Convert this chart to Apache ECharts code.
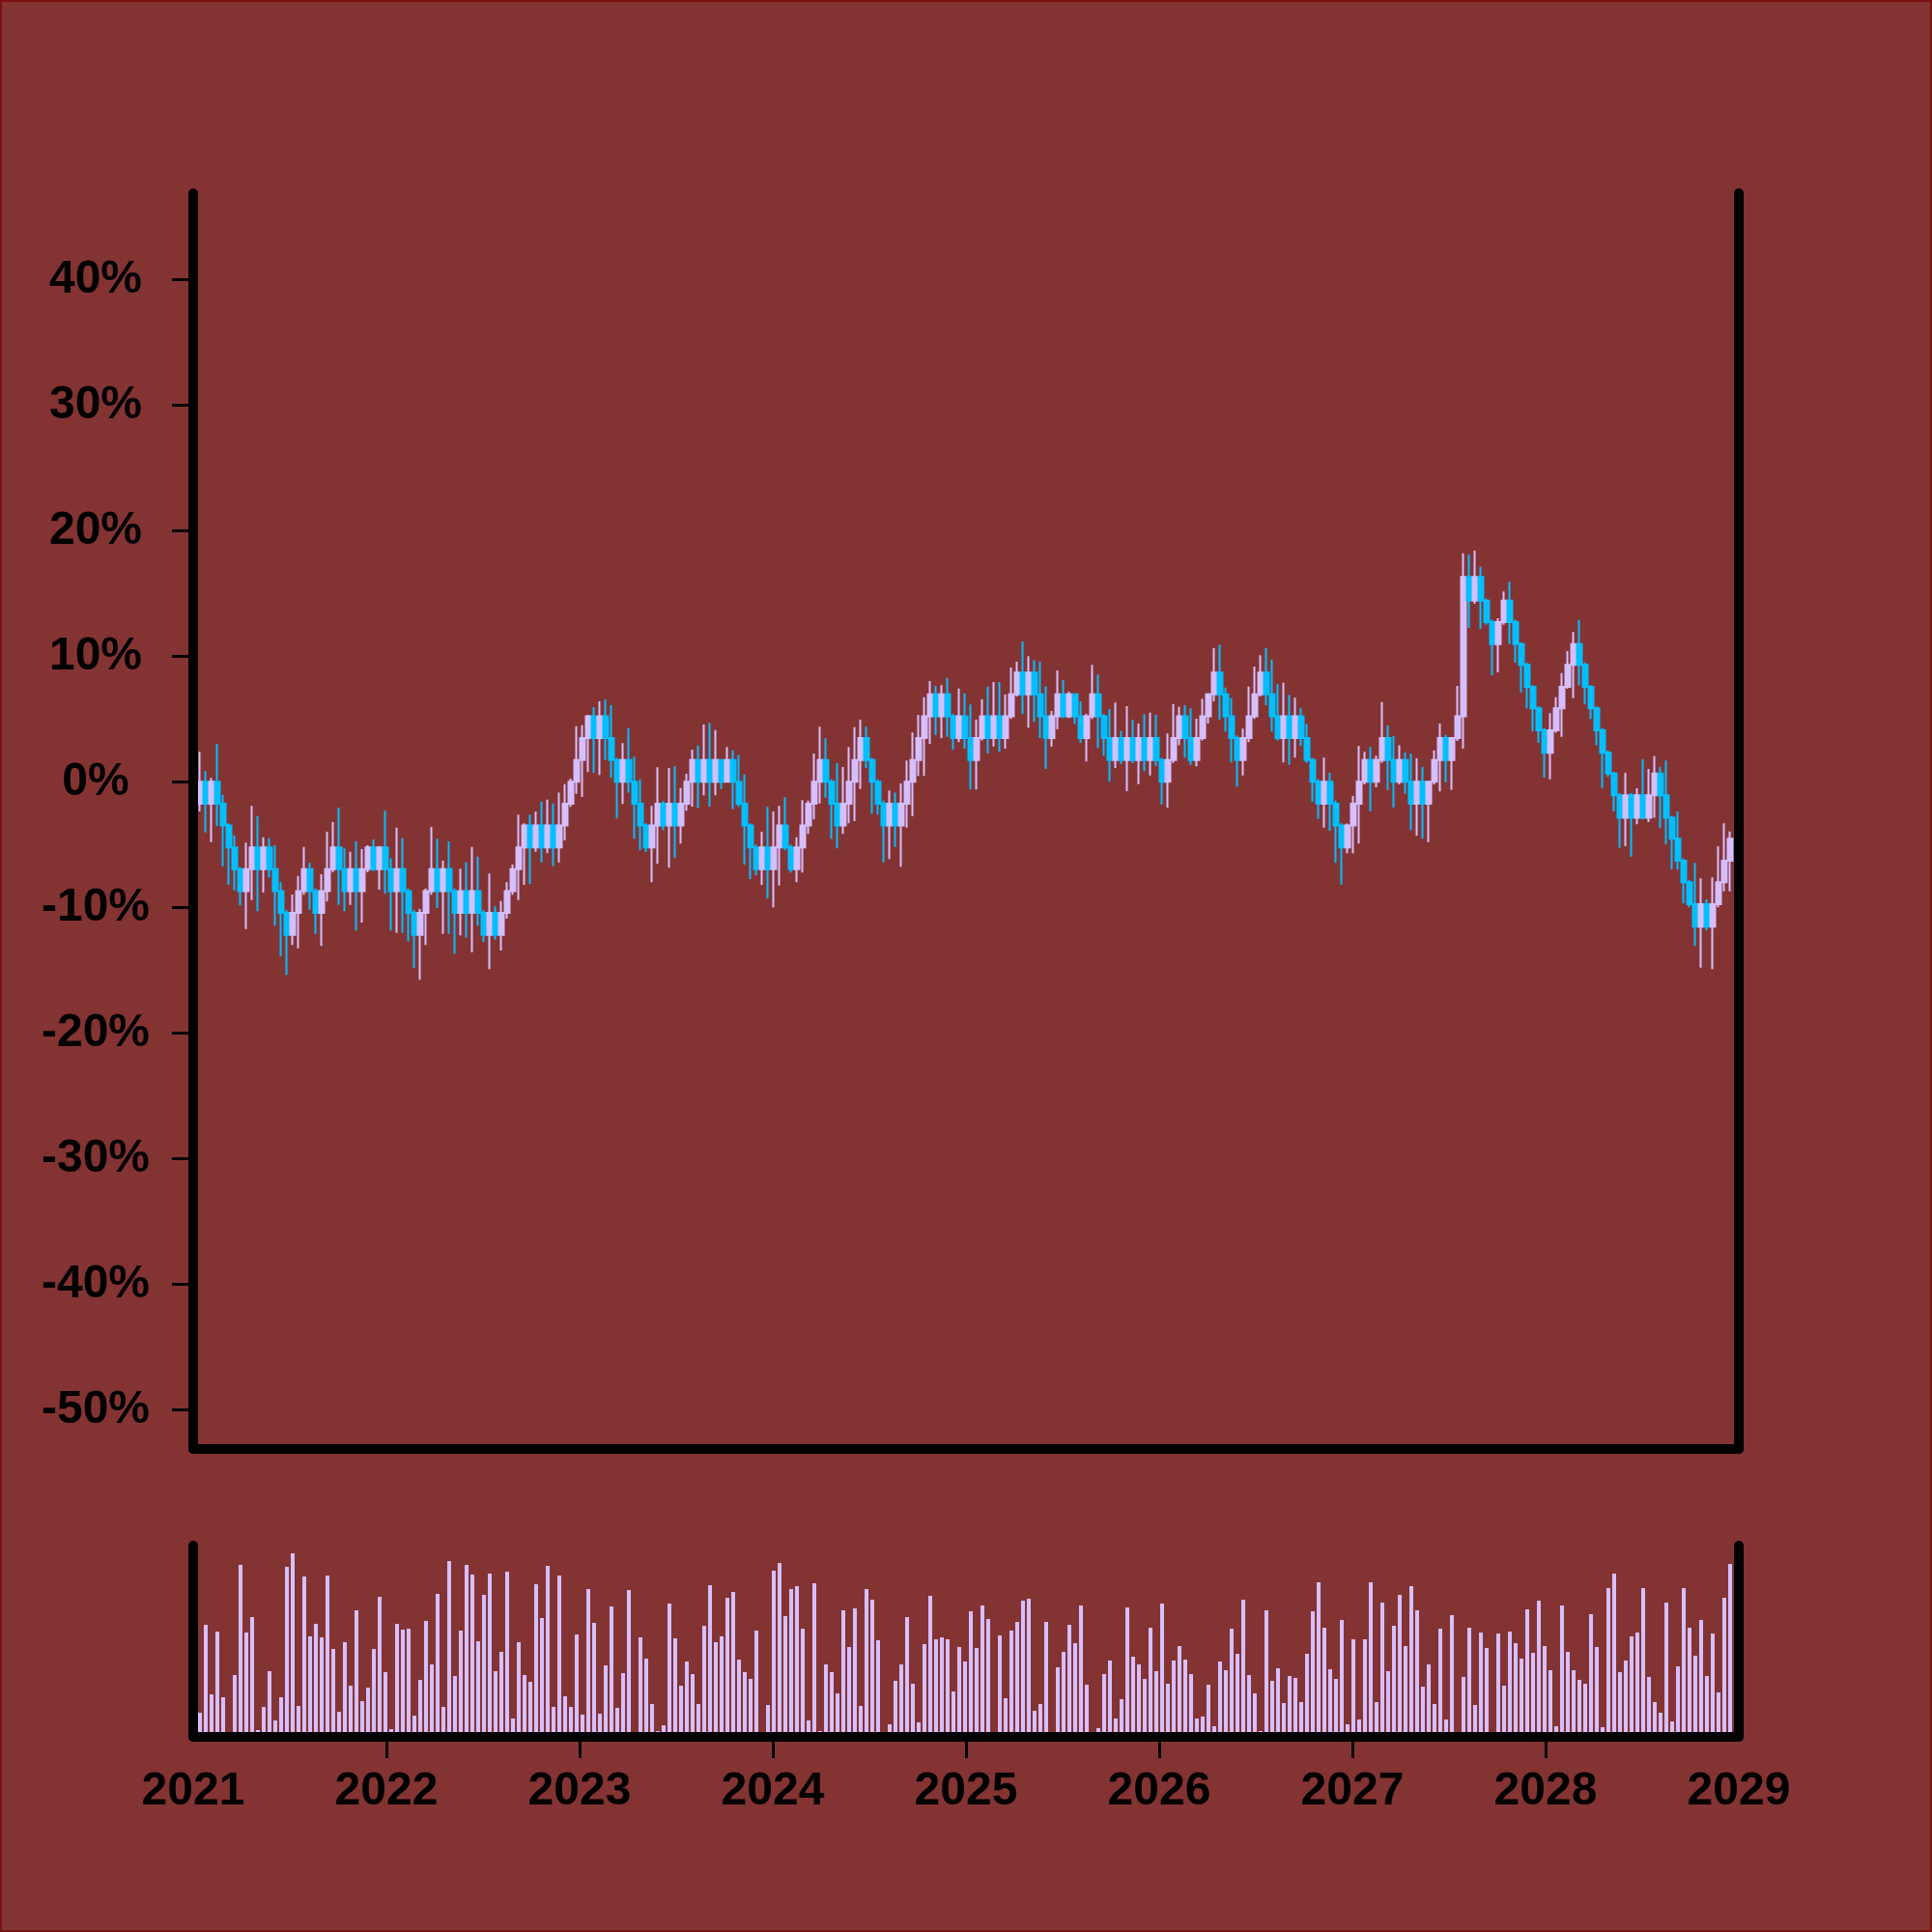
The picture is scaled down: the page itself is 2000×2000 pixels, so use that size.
<!DOCTYPE html>
<html><head><meta charset="utf-8">
<script src="https://cdn.jsdelivr.net/npm/echarts@6/dist/echarts.min.js"></script>
<style>
html,body{margin:0;padding:0;background:#843333;}
#wrap{position:relative;width:2000px;height:2000px;}
#c{width:2000px;height:2000px;}
#frame{position:absolute;left:0;top:0;width:2000px;height:2000px;box-sizing:border-box;border:2px solid #7a1010;pointer-events:none;}
</style>
</head><body><div id="wrap"><div id="c"></div><div id="frame"></div></div>
<script>
// ---- data (percent change) ----
const opens = [
-1.74,0,-1.74,0,-1.74,-3.48,-5.22,-6.96,-8.70,-6.96,
-5.22,-6.96,-5.22,-6.96,-8.70,-10.44,-12.18,-10.44,-8.70,-6.96,
-8.70,-10.44,-8.70,-6.96,-5.22,-6.96,-8.70,-6.96,-8.70,-6.96,
-5.22,-6.96,-5.22,-6.96,-8.70,-6.96,-8.70,-10.44,-12.18,-10.44,
-8.70,-6.96,-8.70,-6.96,-8.70,-10.44,-8.70,-10.44,-8.70,-10.44,
-12.18,-10.44,-12.18,-10.44,-8.70,-6.96,-5.22,-3.48,-5.22,-3.48,
-5.22,-3.48,-5.22,-3.48,-1.74,0,1.74,3.48,5.22,3.48,
5.22,3.48,1.74,0,1.74,0,-1.74,-3.48,-5.22,-3.48,
-1.74,-3.48,-1.74,-3.48,-1.74,0,1.74,0,1.74,0,
1.74,0,1.74,0,-1.74,-3.48,-5.22,-6.96,-5.22,-6.96,
-5.22,-3.48,-5.22,-6.96,-5.22,-3.48,-1.74,0,1.74,0,
-1.74,-3.48,-1.74,0,1.74,3.48,1.74,0,-1.74,-3.48,
-1.74,-3.48,-1.74,0,1.74,3.48,5.22,6.96,5.22,6.96,
5.22,3.48,5.22,3.48,1.74,3.48,5.22,3.48,5.22,3.48,
5.22,6.96,8.70,6.96,8.70,6.96,5.22,3.48,5.22,6.96,
5.22,6.96,5.22,3.48,5.22,6.96,5.22,3.48,1.74,3.48,
1.74,3.48,1.74,3.48,1.74,3.48,1.74,0,1.74,3.48,
5.22,3.48,1.74,3.48,5.22,6.96,8.70,6.96,5.22,3.48,
1.74,3.48,5.22,6.96,8.70,6.96,5.22,3.48,5.22,3.48,
5.22,3.48,1.74,0,-1.74,0,-1.74,-3.48,-5.22,-3.48,
-1.74,0,1.74,0,1.74,3.48,1.74,0,1.74,0,
-1.74,0,-1.74,0,1.74,3.48,1.74,3.48,5.22,16.31,
14.43,16.31,14.43,12.72,10.97,12.72,14.43,12.72,10.97,9.31,
7.56,5.85,4.10,2.31,4.10,5.85,7.56,9.31,10.97,9.31,
7.56,5.85,4.10,2.31,0.66,-1.08,-2.87,-1.08,-2.87,-1.08,
-2.87,-1.08,0.66,-1.08,-2.87,-4.54,-6.28,-8.00,-9.75,-11.54,
-9.75,-11.54,-9.75,-8.00,-6.28
];
const closes = [
0,-1.74,0,-1.74,-3.48,-5.22,-6.96,-8.70,-6.96,-5.22,
-6.96,-5.22,-6.96,-8.70,-10.44,-12.18,-10.44,-8.70,-6.96,-8.70,
-10.44,-8.70,-6.96,-5.22,-6.96,-8.70,-6.96,-8.70,-6.96,-5.22,
-6.96,-5.22,-6.96,-8.70,-6.96,-8.70,-10.44,-12.18,-10.44,-8.70,
-6.96,-8.70,-6.96,-8.70,-10.44,-8.70,-10.44,-8.70,-10.44,-12.18,
-10.44,-12.18,-10.44,-8.70,-6.96,-5.22,-3.48,-5.22,-3.48,-5.22,
-3.48,-5.22,-3.48,-1.74,0,1.74,3.48,5.22,3.48,5.22,
3.48,1.74,0,1.74,0,-1.74,-3.48,-5.22,-3.48,-1.74,
-3.48,-1.74,-3.48,-1.74,0,1.74,0,1.74,0,1.74,
0,1.74,0,-1.74,-3.48,-5.22,-6.96,-5.22,-6.96,-5.22,
-3.48,-5.22,-6.96,-5.22,-3.48,-1.74,0,1.74,0,-1.74,
-3.48,-1.74,0,1.74,3.48,1.74,0,-1.74,-3.48,-1.74,
-3.48,-1.74,0,1.74,3.48,5.22,6.96,5.22,6.96,5.22,
3.48,5.22,3.48,1.74,3.48,5.22,3.48,5.22,3.48,5.22,
6.96,8.70,6.96,8.70,6.96,5.22,3.48,5.22,6.96,5.22,
6.96,5.22,3.48,5.22,6.96,5.22,3.48,1.74,3.48,1.74,
3.48,1.74,3.48,1.74,3.48,1.74,0,1.74,3.48,5.22,
3.48,1.74,3.48,5.22,6.96,8.70,6.96,5.22,3.48,1.74,
3.48,5.22,6.96,8.70,6.96,5.22,3.48,5.22,3.48,5.22,
3.48,1.74,0,-1.74,0,-1.74,-3.48,-5.22,-3.48,-1.74,
0,1.74,0,1.74,3.48,1.74,0,1.74,0,-1.74,
0,-1.74,0,1.74,3.48,1.74,3.48,5.22,16.31,14.43,
16.31,14.43,12.72,10.97,12.72,14.43,12.72,10.97,9.31,7.56,
5.85,4.10,2.31,4.10,5.85,7.56,9.31,10.97,9.31,7.56,
5.85,4.10,2.31,0.66,-1.08,-2.87,-1.08,-2.87,-1.08,-2.87,
-1.08,0.66,-1.08,-2.87,-4.54,-6.28,-8.00,-9.75,-11.54,-9.75,
-11.54,-9.75,-8.00,-6.28,-4.54
];
const lows = [
-2.36,-4.03,-4.80,-3.52,-6.72,-8.21,-8.65,-9.85,-11.72,-9.42,
-10.31,-8.82,-7.62,-11.46,-13.9,-15.38,-12.99,-13.26,-9.0,-10.18,
-12.11,-13.08,-9.54,-7.2,-9.80,-10.31,-9.80,-11.85,-11.21,-7.2,
-7.11,-8.59,-8.90,-11.85,-12.03,-12.03,-12.69,-14.85,-15.77,-12.99,
-9.0,-10.05,-12.11,-12.11,-13.69,-12.23,-12.4,-13.57,-11.46,-12.75,
-14.92,-12.57,-13.44,-10.9,-9.0,-9.42,-8.21,-8.13,-5.57,-6.41,
-5.69,-6.72,-6.41,-4.67,-2.0,-0.95,-1.21,0.77,0.72,0.54,
1.74,0.33,-2.92,-1.77,-0.87,-4.54,-5.44,-5.6,-8.0,-6.54,
-3.85,-6.85,-6.08,-4.92,-2.31,-1.98,-2.1,-1.08,-1.98,-1.08,
-0.57,-0.05,-2.18,-2.0,-6.59,-7.75,-7.44,-8.21,-9.28,-10.0,
-8.26,-5.44,-7.23,-8.0,-7.23,-4.15,-3.0,-1.72,-1.26,-4.54,
-5.31,-4.15,-3.31,-3.13,-0.57,1.1,-2.54,-2.62,-6.41,-6.15,
-5.18,-6.77,-3.64,-2.75,0.46,0.46,3.02,3.74,3.46,3.59,
2.56,3.15,2.64,-0.62,-0.62,3.3,2.25,2.82,2.38,2.64,
5.0,6.8,5.38,4.31,4.77,3.48,1.02,2.82,4.18,5.08,
5.08,4.62,3.1,1.62,5.0,2.69,2.08,0,1.1,1.43,
-0.75,1.48,-0.18,0.85,0.51,1.28,-1.8,-2.05,1.5,2.9,
1.92,1.36,1.23,3.3,4.64,6.4,4.95,4.0,1.54,-0.38,
0.51,3.15,5.0,6.8,6.1,4.0,3.28,1.54,1.35,1.92,
2.85,1.5,-1.59,-2.95,-3.64,-3.9,-6.46,-8.18,-5.69,-5.69,
-4.92,-0.2,-2.36,-0.44,1.5,-0.64,-2.05,-0.2,-0.95,-3.85,
-4.28,-4.54,-4.8,-0.2,-0.77,-0.05,-0.64,3.26,2.64,12.25,
14.18,12.18,12.5,8.48,8.72,12.5,10.97,9.48,7.12,5.85,
4.0,3.1,0.33,0.2,3.9,3.59,7.4,6.66,7.69,6.15,
5.0,2.9,-0.49,0.4,-2.36,-5.26,-5.13,-5.95,-3.38,-3.0,
-3.21,-2.87,-3.69,-4.98,-6.98,-6.98,-9.67,-10.0,-13.08,-14.8,
-11.8,-14.92,-10.0,-8.72,-8.72
];
const highs = [
2.38,0.85,0.31,3.02,-1.03,-3.3,-4.28,-6.8,-4.85,-1.92,
-2.75,-4.41,-4.49,-5.05,-8.0,-10.2,-8.98,-7.49,-5.18,-6.46,
-8.5,-7.36,-3.98,-3.21,-2.05,-5.31,-5.57,-4.75,-5.36,-5.05,
-4.59,-5.11,-2.31,-6.1,-3.65,-4.49,-8.5,-10.2,-10.13,-8.5,
-3.59,-4.54,-6.28,-4.75,-8.5,-6.92,-6.41,-5.18,-5.95,-10.2,
-7.31,-9.92,-9.49,-8.0,-6.59,-2.62,-3.3,-2.62,-2.36,-1.59,
-1.41,-1.72,-0.87,-0.18,0.25,4.43,4.51,5.33,5.95,6.41,
6.56,6.10,1.9,3.08,4.25,2.0,0.2,-3.3,-1.92,1.15,
-1.54,1.10,1.23,-0.49,0.64,2.56,2.89,4.56,4.69,4.12,
1.82,2.77,2.51,2.13,0.59,-3.3,-5.0,-3.98,-2.0,-2.36,
-1.92,-1.23,-5.0,-4.41,-1.46,-1.5,2.25,4.38,3.46,0.2,
1.48,1.18,2.77,4.35,4.95,4.38,1.9,0.2,-1.5,-0.69,
-0.87,-0.13,1.69,3.92,5.33,6.74,8.02,7.64,7.69,8.28,
5.4,7.43,7.05,6.15,4.95,6.56,7.58,7.95,7.95,6.95,
9.1,9.56,11.18,10.0,9.69,9.56,7.58,5.64,8.87,8.1,
7.18,7.0,6.4,5.4,9.31,8.54,5.4,5.79,6.31,4.05,
6.02,4.95,4.64,5.38,5.51,5.33,1.9,3.85,6.18,5.97,
6.1,5.85,5.02,6.61,7.07,10.64,10.9,7.5,6.67,3.7,
4.23,7.58,9.18,10.08,10.64,9.74,7.77,7.89,6.92,6.69,
5.85,4.62,1.9,0.2,1.92,0.72,-1.5,-3.3,-3.33,-1.13,
2.85,2.38,2.77,2.08,6.35,4.48,3.66,2.9,2.33,2.25,
1.87,1.18,0.08,2.51,4.64,3.74,3.46,7.64,18.2,18.08,
18.41,17.12,14.6,12.9,13.02,15.15,15.92,12.9,11.1,9.5,
7.7,6.0,4.3,5.46,6.74,8.66,10.41,11.92,12.89,9.5,
7.7,6.0,4.3,2.5,0.8,-0.9,0.72,-0.9,-0.51,1.79,
1.02,2.05,1.18,1.69,-2.7,-2.36,-6.1,-7.8,-6.46,-7.69,
-9.36,-7.62,-5.13,-3.31,-3.95
];
const volumes = [
25,116,44,109,41,0,64,178,108,124,
7,31,68,17,41,176,190,32,166,104,
117,103,167,91,26,98,53,131,37,51,
91,145,67,8,117,111,112,22,59,120,
75,148,31,182,63,110,178,168,99,147,
169,68,88,171,19,98,64,57,158,123,
177,31,167,42,31,106,23,153,118,24,
74,135,30,66,152,0,103,81,34,6,
12,138,102,53,78,65,34,115,157,98,
104,144,150,80,67,60,110,0,33,172,
180,125,153,156,112,17,159,6,75,67,
45,131,93,133,32,153,142,100,0,13,
58,75,124,55,15,96,146,101,103,101,
47,93,78,130,92,136,122,0,105,40,
110,119,141,143,27,34,119,0,72,88,
116,97,136,54,0,9,65,79,19,39,
134,83,75,60,113,68,138,55,79,94,
80,65,19,21,54,11,78,69,112,86,
142,64,45,6,131,58,71,35,63,61,
36,86,130,160,113,70,60,121,13,101,
18,101,160,36,139,68,115,147,94,156,
131,52,75,34,112,18,126,5,62,113,
33,108,92,0,107,53,109,97,81,132,
87,141,94,69,11,136,88,69,59,55,
127,93,10,154,169,67,79,104,108,154,
62,36,25,139,16,73,154,113,84,121,
63,107,46,144,179
];
const yTickValues = [-50,-40,-30,-20,-10,0,10,20,30,40];
const yearLabels = [2021,2022,2023,2024,2025,2026,2027,2028,2029];
const yearTicks = [2022,2023,2024,2025,2026,2027,2028];

// period positions in decimal years: evenly spaced sessions from mid-January 2021
const firstPeriod = 2021.035;
const periodStep = 0.03;
const periods = opens.map((_, i) => firstPeriod + i * periodStep);

const LAV = '#d5bfff', CYAN = '#00bfff';
const font = {fontFamily:'"Liberation Sans", Arial, sans-serif', fontWeight:'bold', fontSize:48, color:'#000'};
const axisLine = {show:true, onZero:false, lineStyle:{color:'#000', width:10, cap:'round'}};

const chart = echarts.init(document.getElementById('c'), null, {renderer:'canvas', width:2000, height:2000});
chart.setOption({
  backgroundColor:'#843333',
  animation:false,
  grid:[
    {left:200, right:200, top:200, height:1300},
    {left:200, right:200, top:1600, height:198}
  ],
  xAxis:[
    {type:'value', gridIndex:0, min:2021, max:2029, interval:1, axisLine:axisLine,
     axisTick:{show:false}, axisLabel:{show:false}, splitLine:{show:false}, z:5},
    {type:'value', gridIndex:1, min:2021, max:2029, interval:1, axisLine:axisLine,
     axisTick:{show:true, length:22, lineStyle:{color:'#000', width:3}, customValues: yearTicks},
     axisLabel:Object.assign({}, font, {margin:33, customValues: yearLabels, formatter: v => String(v)}),
     splitLine:{show:false}, z:5}
  ],
  yAxis:[
    {type:'value', gridIndex:0, position:'left', min:-53.13, max:46.87, axisLine:axisLine,
     axisTick:{show:true, length:22, lineStyle:{color:'#000', width:3}, customValues:yTickValues},
     axisLabel:Object.assign({}, font, {align:'center', margin:101, customValues:yTickValues, formatter:'{value}%'}),
     splitLine:{show:false}, z:5},
    {type:'value', gridIndex:0, position:'right', min:-53.13, max:46.87, axisLine:axisLine,
     axisTick:{show:false}, axisLabel:{show:false}, splitLine:{show:false}, z:5},
    {type:'value', gridIndex:1, position:'left', min:0, max:198, axisLine:axisLine,
     axisTick:{show:false}, axisLabel:{show:false}, splitLine:{show:false}, z:5},
    {type:'value', gridIndex:1, position:'right', min:0, max:198, axisLine:axisLine,
     axisTick:{show:false}, axisLabel:{show:false}, splitLine:{show:false}, z:5}
  ],
  series:[
    {type:'candlestick', xAxisIndex:0, yAxisIndex:0, barWidth:6,
     encode:{x:0, y:[1,2,3,4]},
     data: periods.map((t,i) => [t, opens[i], closes[i], lows[i], highs[i]]),
     itemStyle:{color:LAV, color0:CYAN, borderColor:LAV, borderColor0:CYAN, borderWidth:2}},
    {type:'bar', xAxisIndex:1, yAxisIndex:2, barWidth:4,
     data: periods.map((t,i) => [t, volumes[i]]),
     itemStyle:{color:LAV}}
  ]
});
</script>
</body></html>
